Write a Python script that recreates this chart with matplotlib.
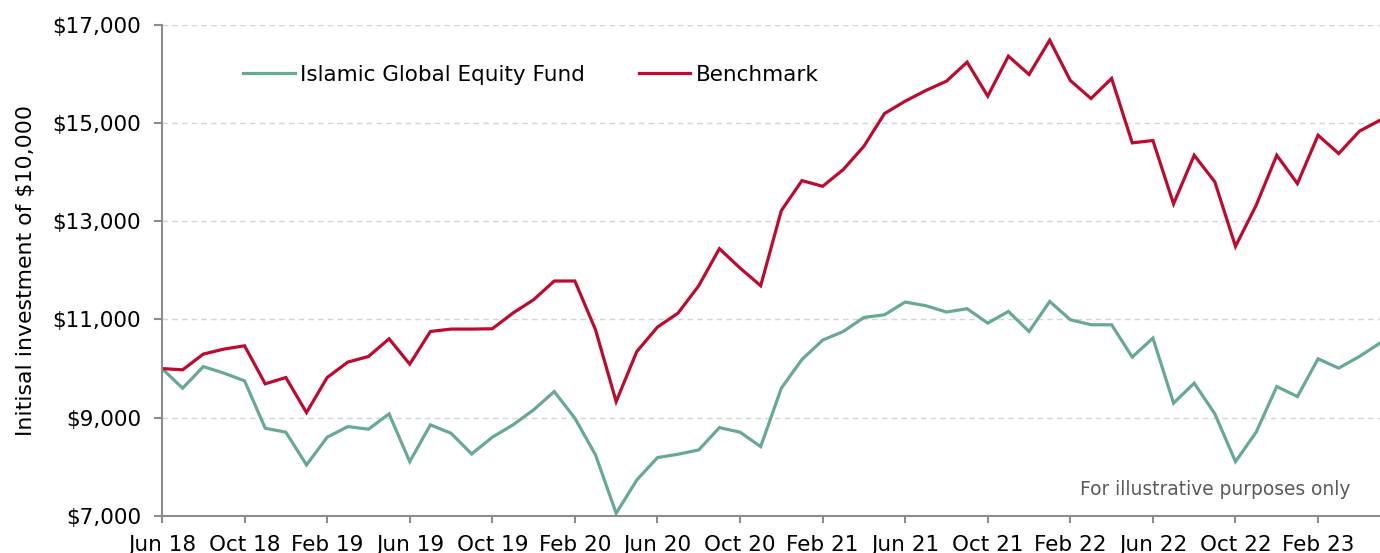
import matplotlib.pyplot as plt
import matplotlib.ticker as mticker

# monthly values, Jun 18 .. May 23
months = ['Jun', 'Jul', 'Aug', 'Sep', 'Oct', 'Nov', 'Dec', 'Jan', 'Feb', 'Mar', 'Apr', 'May']
n_points = 60
dates = ['{} {}'.format(months[i % 12], 18 + (i + 5) // 12) for i in range(n_points)]

fund = [10000, 9600, 10040, 9907, 9750, 8786, 8705, 8039, 8603, 8819,
        8766, 9078, 8106, 8854, 8684, 8263, 8603, 8854, 9159, 9532,
        8990, 8243, 7055, 7733, 8188, 8257, 8344, 8799, 8705, 8412,
        9601, 10185, 10578, 10754, 11039, 11094, 11353, 11278, 11150, 11217,
        10925, 11162, 10754, 11365, 10993, 10891, 10891, 10233, 10620, 9296,
        9703, 9078, 8106, 8705, 9634, 9430, 10198, 10009, 10245, 10518]

benchmark = [10000, 9974, 10294, 10396, 10463, 9689, 9817, 9104, 9817, 10131,
             10245, 10605, 10090, 10754, 10803, 10803, 10809, 11129, 11400, 11781,
             11781, 10789, 9328, 10347, 10843, 11129, 11685, 12439, 12045, 11685,
             13213, 13824, 13708, 14048, 14523, 15189, 15440, 15657, 15847, 16234,
             15542, 16356, 15983, 16682, 15860, 15494, 15902, 14592, 14639, 13350,
             14340, 13798, 12486, 13321, 14340, 13763, 14747, 14374, 14828, 15052]

y_ticks = [7000, 9000, 11000, 13000, 15000, 17000]

fund_color = '#68A898'
bench_color = '#BE0A2F'
axis_color = '#8C8C8C'

plt.rcParams['font.family'] = ['DejaVu Sans']

fig = plt.figure(figsize=(13.8, 5.53), dpi=100)
ax = fig.add_axes([162 / 1380, 37 / 553, 1 - 162 / 1380, 491.5 / 553])

x = list(range(n_points))
ax.plot(x, fund, color=fund_color, lw=2.3, label='Islamic Global Equity Fund', solid_joinstyle='miter')
ax.plot(x, benchmark, color=bench_color, lw=2.3, label='Benchmark', solid_joinstyle='miter')

ax.set_xlim(0, n_points - 1)
ax.set_ylim(7000, 17000)
ax.set_yticks(y_ticks)
ax.yaxis.set_major_formatter(mticker.FuncFormatter(lambda v, p: '${:,.0f}'.format(v)))
ax.set_xticks(x[::4])
ax.set_xticklabels(dates[::4])

ax.grid(axis='y', color='#D5D5D5', linestyle=(0, (4, 3)), lw=1)
ax.set_axisbelow(True)

for side in ['top', 'right']:
    ax.spines[side].set_visible(False)
for side in ['left', 'bottom']:
    ax.spines[side].set_color(axis_color)
    ax.spines[side].set_linewidth(1.5)

ax.tick_params(axis='both', colors=axis_color, labelcolor='black', labelsize=15.5,
               length=6, width=1.5, direction='out')
ax.tick_params(axis='y', pad=9)
ax.tick_params(axis='x', pad=9, length=5)

ax.set_ylabel('Initisal investment of $10,000', fontsize=15.8, labelpad=12)

ax.legend(loc='center left', bbox_to_anchor=(81 / 1218, 441 / 491.5), ncol=2,
          frameon=False, fontsize=15.5, handlelength=2.4, handletextpad=0.25,
          columnspacing=2.5, borderpad=0, borderaxespad=0)

ax.text(0.976, 0.053, 'For illustrative purposes only', transform=ax.transAxes,
        ha='right', va='center', fontsize=13.4, color='#5A5A5A')

fig.savefig('out.png', dpi=100)
